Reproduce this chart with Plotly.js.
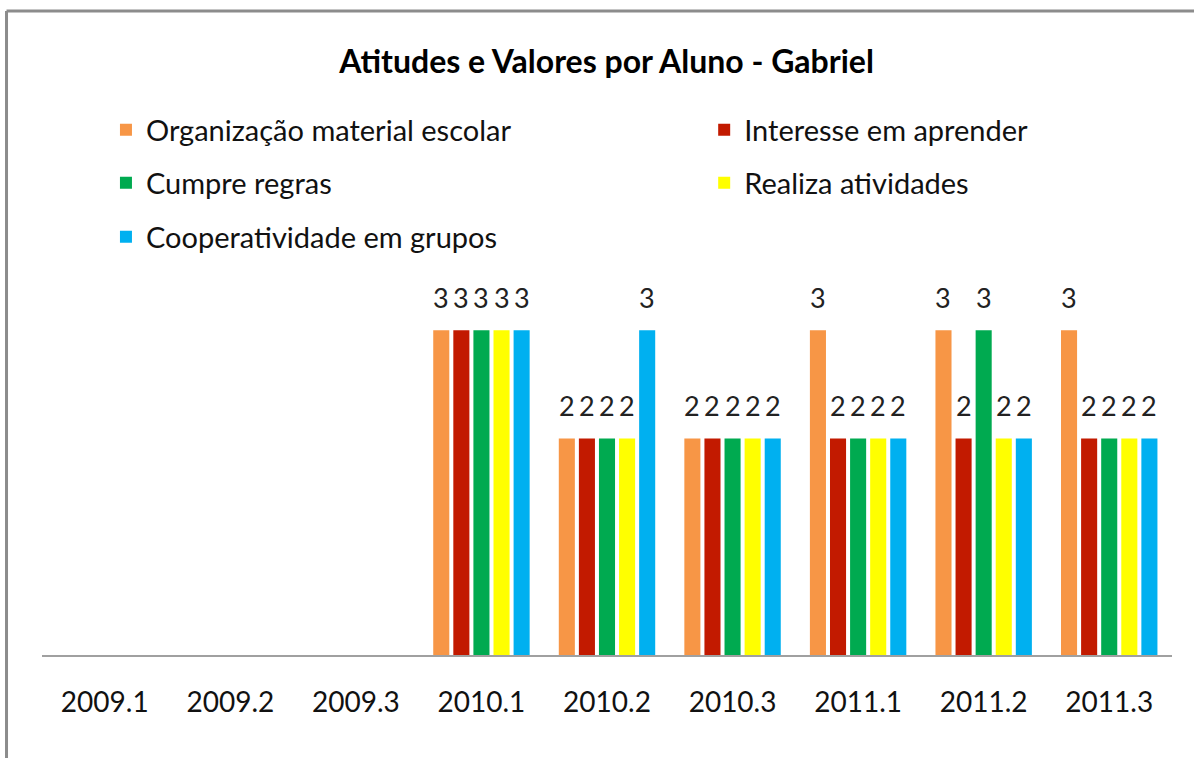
<!DOCTYPE html>
<html>
<head>
<meta charset="utf-8">
<script src="https://cdn.plot.ly/plotly-3.0.1.min.js"></script>
<style>html,body{margin:0;padding:0;background:#fff;}#chart{width:1194px;height:758px;}</style>
</head>
<body>
<div id="chart"></div>
<script>
const categories = ["2009.1","2009.2","2009.3","2010.1","2010.2","2010.3","2011.1","2011.2","2011.3"];
const seriesNames = ["Organização material escolar","Interesse em aprender","Cumpre regras","Realiza atividades","Cooperatividade em grupos"];
const organizacao = [null,null,null,3,2,2,3,3,3];
const interesse   = [null,null,null,3,2,2,2,2,2];
const cumpre      = [null,null,null,3,2,2,2,3,2];
const realiza     = [null,null,null,3,2,2,2,2,2];
const cooperativ  = [null,null,null,3,3,2,2,2,2];
const seriesValues = [organizacao, interesse, cumpre, realiza, cooperativ];
const colors = ["#F79646","#C21A00","#00AA50","#FFFF00","#00B0F0"];

const FONT = "Lato, 'Open Sans', sans-serif";
const BARGAP = 0.2;
const nSeries = seriesValues.length;

const traces = seriesValues.map((vals, i) => ({
  type: "bar",
  name: seriesNames[i],
  x: categories,
  y: vals,
  marker: {color: colors[i]},
  hoverinfo: "x+y+name",
  legend: i === 0 ? "legend" : "legend" + (i + 1)
}));

// data labels placed at each bar's slot centre (category index + group offset)
const slot = (1 - BARGAP) / nSeries;
const annotations = [];
seriesValues.forEach((vals, i) => {
  vals.forEach((v, j) => {
    if (v == null) return;
    annotations.push({
      x: j + (i - (nSeries - 1) / 2) * slot,
      y: v,
      xref: "x", yref: "y",
      text: String(v),
      showarrow: false,
      yanchor: "bottom",
      yshift: 14,
      font: {family: FONT, size: 27, color: "#222"}
    });
  });
});

// legend layout: two columns, three rows (paper coordinates)
const legendPos = [
  {x: 0.0566, y: 0.8015},
  {x: 0.586,  y: 0.8015},
  {x: 0.0566, y: 0.7206},
  {x: 0.586,  y: 0.7206},
  {x: 0.0566, y: 0.6382}
];

const layout = {
  width: 1194,
  height: 758,
  paper_bgcolor: "#fff",
  plot_bgcolor: "#fff",
  margin: {l: 42, r: 22, t: 0, b: 103},
  barmode: "group",
  bargap: BARGAP,
  bargroupgap: 0.2,
  title: {
    text: "<b>Atitudes e Valores por Aluno - Gabriel</b>",
    font: {family: FONT, size: 32, color: "#000"},
    x: 0.508, xanchor: "center",
    y: 0.918, yanchor: "middle", yref: "container"
  },
  xaxis: {
    type: "category",
    showline: true, linecolor: "#a0a0a0", linewidth: 2,
    showgrid: false, zeroline: false,
    ticks: "", ticklabelstandoff: 21,
    tickfont: {family: FONT, size: 28, color: "#111"}
  },
  yaxis: {
    domain: [0, 0.5786],
    range: [0, 3.5],
    visible: false,
    showgrid: false, zeroline: false
  },
  annotations: annotations,
  shapes: [
    {type: "line", xref: "paper", yref: "paper", x0: -0.0314, x1: 1.0195, y0: 0.9832, y1: 0.9832, line: {color: "#8c8c8c", width: 3}},
    {type: "line", xref: "paper", yref: "paper", x0: -0.0314, x1: -0.0314, y0: 0.9832, y1: -0.16, line: {color: "#8c8c8c", width: 3}}
  ],
  showlegend: true
};
legendPos.forEach((p, i) => {
  const key = i === 0 ? "legend" : "legend" + (i + 1);
  layout[key] = {
    x: p.x, y: p.y, xref: "paper", yref: "paper",
    xanchor: "left", yanchor: "middle",
    bgcolor: "rgba(0,0,0,0)",
    font: {family: FONT, size: 29, color: "#111"},
    itemwidth: 30
  };
});

Plotly.newPlot("chart", traces, layout, {displayModeBar: false, staticPlot: true});
</script>
</body>
</html>
